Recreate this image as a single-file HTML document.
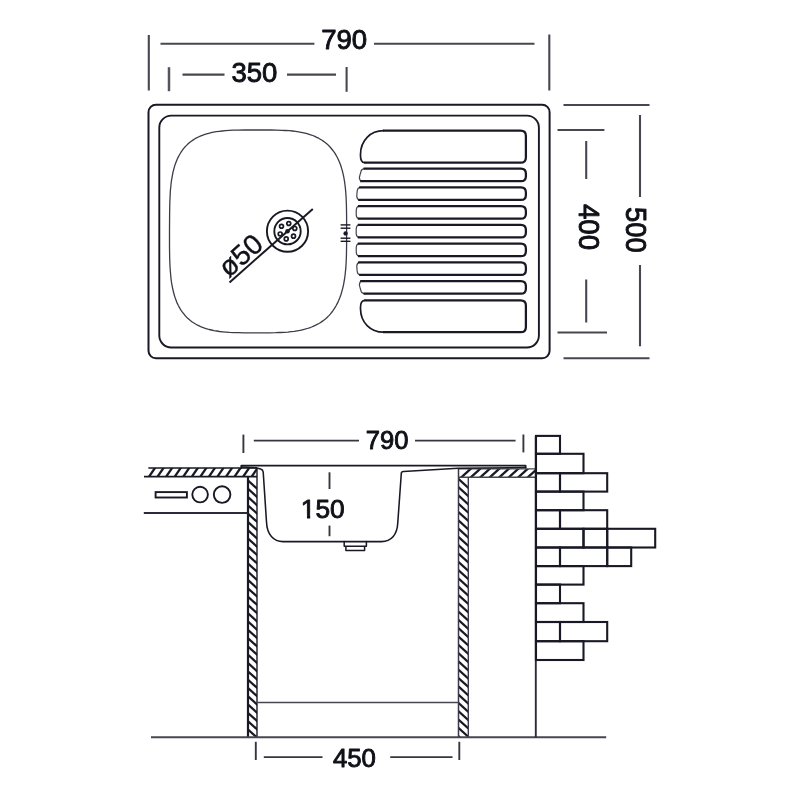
<!DOCTYPE html>
<html><head><meta charset="utf-8"><title>Sink dimensions</title>
<style>html,body{margin:0;padding:0;background:#fff;}body{width:800px;height:800px;overflow:hidden;font-family:"Liberation Sans",sans-serif;}svg{display:block;will-change:transform;}</style></head>
<body>
<svg width="800" height="800" viewBox="0 0 800 800">
<defs>
<clipPath id="c1"><rect x="144" y="468" width="113" height="8.5"/></clipPath>
<clipPath id="c2"><rect x="248" y="476.3" width="9" height="260.9"/></clipPath>
<clipPath id="c3"><rect x="458.5" y="468.9" width="77.2" height="8.4"/></clipPath>
<clipPath id="c4"><rect x="458.5" y="477.3" width="9.8" height="259.9"/></clipPath>
</defs>
<rect width="800" height="800" fill="#fff"/>
<g fill="none" stroke="#191925" stroke-width="1.9" stroke-linecap="round" stroke-linejoin="round">
<rect x="148.5" y="104.7" width="401.1" height="253.6" rx="7.5" ry="7.5" stroke-width="2"/>
<rect x="159.3" y="115.6" width="379.6" height="231.9" rx="12" ry="12"/>
</g>
<path d="M346.6,231.2 L346.6,244.5 L346.5,251.1 L346.4,256.5 L346.2,261.1 L346.0,265.3 L345.7,269.1 L345.3,272.7 L345.0,276.0 L344.5,279.1 L344.0,282.1 L343.5,284.9 L342.9,287.6 L342.2,290.2 L341.5,292.7 L340.8,295.0 L340.0,297.3 L339.1,299.5 L338.2,301.6 L337.2,303.6 L336.2,305.5 L335.1,307.4 L334.0,309.2 L332.8,310.9 L331.6,312.5 L330.3,314.1 L328.9,315.6 L327.5,317.0 L326.0,318.4 L324.4,319.7 L322.8,320.9 L321.1,322.1 L319.4,323.2 L317.6,324.2 L315.7,325.2 L313.7,326.1 L311.6,327.0 L309.5,327.8 L307.2,328.5 L304.9,329.2 L302.4,329.8 L299.8,330.4 L297.1,330.9 L294.2,331.4 L291.1,331.7 L287.8,332.1 L284.1,332.3 L280.1,332.5 L275.4,332.7 L269.6,332.8 L258.0,332.8 L244.7,332.8 L238.6,332.7 L233.8,332.6 L229.6,332.4 L226.0,332.1 L222.6,331.8 L219.6,331.5 L216.7,331.0 L214.0,330.6 L211.5,330.0 L209.1,329.5 L206.8,328.8 L204.6,328.1 L202.6,327.4 L200.6,326.6 L198.7,325.7 L196.9,324.8 L195.1,323.8 L193.5,322.8 L191.9,321.7 L190.3,320.5 L188.9,319.3 L187.4,318.0 L186.1,316.6 L184.8,315.2 L183.6,313.7 L182.4,312.2 L181.3,310.6 L180.2,308.9 L179.2,307.1 L178.2,305.3 L177.3,303.4 L176.5,301.4 L175.7,299.3 L174.9,297.1 L174.2,294.8 L173.6,292.5 L173.0,290.0 L172.4,287.3 L171.9,284.6 L171.4,281.7 L171.0,278.6 L170.7,275.3 L170.4,271.8 L170.1,268.0 L169.9,263.8 L169.7,259.0 L169.6,253.5 L169.5,246.5 L169.5,231.2 L169.6,215.6 L169.7,208.5 L169.8,203.0 L170.0,198.3 L170.2,194.1 L170.4,190.3 L170.8,186.8 L171.1,183.5 L171.5,180.4 L172.0,177.6 L172.5,174.8 L173.0,172.2 L173.6,169.8 L174.3,167.4 L174.9,165.2 L175.7,163.0 L176.5,160.9 L177.3,159.0 L178.2,157.1 L179.2,155.3 L180.2,153.5 L181.2,151.9 L182.3,150.3 L183.5,148.7 L184.7,147.3 L186.0,145.9 L187.3,144.6 L188.7,143.3 L190.2,142.1 L191.7,141.0 L193.3,139.9 L194.9,138.8 L196.6,137.9 L198.4,137.0 L200.3,136.1 L202.3,135.3 L204.3,134.6 L206.5,133.9 L208.8,133.3 L211.1,132.7 L213.7,132.2 L216.3,131.7 L219.2,131.3 L222.2,131.0 L225.6,130.7 L229.2,130.4 L233.4,130.2 L238.2,130.1 L244.4,130.0 L258.0,130.0 L270.6,130.0 L276.6,130.1 L281.4,130.3 L285.5,130.5 L289.2,130.7 L292.5,131.0 L295.6,131.4 L298.5,131.8 L301.2,132.3 L303.7,132.8 L306.1,133.4 L308.5,134.1 L310.7,134.8 L312.8,135.5 L314.8,136.4 L316.7,137.3 L318.6,138.2 L320.3,139.2 L322.0,140.3 L323.7,141.4 L325.2,142.6 L326.7,143.8 L328.2,145.1 L329.6,146.5 L330.9,148.0 L332.1,149.5 L333.3,151.0 L334.5,152.7 L335.6,154.4 L336.6,156.2 L337.6,158.0 L338.5,160.0 L339.4,162.0 L340.2,164.1 L341.0,166.3 L341.7,168.6 L342.4,171.0 L343.0,173.6 L343.6,176.2 L344.1,179.0 L344.6,181.9 L345.0,185.0 L345.4,188.3 L345.7,191.8 L346.0,195.6 L346.2,199.8 L346.4,204.5 L346.5,209.9 L346.6,216.8Z" fill="none" stroke="#3c3c48" stroke-width="1.3" stroke-linejoin="round"/>
<g fill="none" stroke="#191925">
<circle cx="287.5" cy="231.2" r="20.6" stroke-width="1.9"/>
<circle cx="287.5" cy="231.2" r="13.2" stroke-width="1.9"/>
<circle cx="294.81" cy="228.47" r="1.95" stroke-width="1.7"/>
<circle cx="293.52" cy="236.16" r="1.95" stroke-width="1.7"/>
<circle cx="286.21" cy="238.89" r="1.95" stroke-width="1.7"/>
<circle cx="280.19" cy="233.93" r="1.95" stroke-width="1.7"/>
<circle cx="281.48" cy="226.24" r="1.95" stroke-width="1.7"/>
<circle cx="288.79" cy="223.51" r="1.95" stroke-width="1.7"/>
</g>
<circle cx="287.5" cy="231.2" r="2.3" fill="#191925"/>
<line x1="229.5" y1="282.4" x2="312.8" y2="208.9" stroke="#191925" stroke-width="2"/>
<g stroke="#191925" stroke-width="1.4">
<line x1="340.6" y1="224.9" x2="350.4" y2="224.9"/>
<line x1="340.6" y1="228.2" x2="350.4" y2="228.2"/>
<line x1="340.6" y1="238.2" x2="350.4" y2="238.2"/>
<line x1="340.6" y1="241.3" x2="350.4" y2="241.3"/>
</g>
<circle cx="345.6" cy="233.4" r="2.2" fill="#191925"/>
<path d="M383.5,130.7 C370.5,130.7 360.5,140.5 360.5,154.5 Q360.3,162.7 364.7,162.7 M364.7,300.3 Q360.3,300.3 360.5,308.5 C360.5,322.5 370.5,332.2 383.5,332.2" fill="none" stroke="#191925" stroke-width="1.7" stroke-linecap="round" stroke-linejoin="round"/>
<path d="M365.10,168.70 Q361.27,168.80 360.77,172.30 L360.38,173.62 L360.00,174.95 L359.66,176.27 L359.34,177.60 Q359.84,181.10 361.68,181.20 M360.69,187.45 Q357.69,187.55 357.19,191.05 L357.06,192.37 L356.95,193.70 L356.85,195.02 L356.76,196.35 Q357.26,199.85 359.66,199.95 M359.45,206.20 Q356.78,206.30 356.28,209.80 L356.26,211.12 L356.25,212.45 L356.24,213.77 L356.23,215.10 Q356.73,218.60 359.31,218.70 M359.30,224.95 Q356.70,225.05 356.20,228.55 L356.20,229.87 L356.20,231.20 L356.20,232.52 L356.20,233.85 Q356.70,237.35 359.30,237.45 M359.31,243.70 Q356.73,243.80 356.23,247.30 L356.24,248.62 L356.25,249.95 L356.26,251.27 L356.28,252.60 Q356.78,256.10 359.45,256.20 M359.66,262.45 Q357.26,262.55 356.76,266.05 L356.85,267.38 L356.95,268.70 L357.06,270.03 L357.19,271.35 Q357.69,274.85 360.69,274.95 M361.68,281.20 Q359.84,281.30 359.34,284.80 L359.66,286.12 L360.00,287.45 L360.38,288.78 L360.77,290.10 Q361.27,293.60 365.10,293.70" fill="none" stroke="#44444f" stroke-width="1.2" stroke-linecap="round" stroke-linejoin="round"/>
<path d="M383,130.7 H520.5 Q525.9,130.7 525.9,136 V157.4 Q525.9,162.7 520.5,162.7 H364.2 M363.60,168.70 H520.9 Q525.9,168.70 525.9,173.70 V176.20 Q525.9,181.20 520.9,181.20 H360.18 M359.19,187.45 H520.9 Q525.9,187.45 525.9,192.45 V194.95 Q525.9,199.95 520.9,199.95 H358.16 M357.95,206.20 H520.9 Q525.9,206.20 525.9,211.20 V213.70 Q525.9,218.70 520.9,218.70 H357.81 M357.80,224.95 H520.9 Q525.9,224.95 525.9,229.95 V232.45 Q525.9,237.45 520.9,237.45 H357.80 M357.81,243.70 H520.9 Q525.9,243.70 525.9,248.70 V251.20 Q525.9,256.20 520.9,256.20 H357.95 M358.16,262.45 H520.9 Q525.9,262.45 525.9,267.45 V269.95 Q525.9,274.95 520.9,274.95 H359.19 M360.18,281.20 H520.9 Q525.9,281.20 525.9,286.20 V288.70 Q525.9,293.70 520.9,293.70 H363.60 M364.2,300.3 H520.5 Q525.9,300.3 525.9,305.6 V326.9 Q525.9,332.2 520.5,332.2 H383" fill="none" stroke="#191925" stroke-width="2.25" stroke-linejoin="round"/>
<g fill="none" stroke="#474751" stroke-width="2.1">
<line x1="148.8" y1="35" x2="148.8" y2="90.5"/>
<line x1="549.3" y1="34.5" x2="549.3" y2="90.5"/>
<line x1="160.5" y1="43.7" x2="314.4" y2="43.7"/>
<line x1="374" y1="43.7" x2="534.5" y2="43.7"/>
<line x1="169" y1="67.2" x2="169" y2="91.2" stroke-width="2.5" stroke="#55555f"/>
<line x1="346.6" y1="67" x2="346.6" y2="91.8"/>
<line x1="182.5" y1="74.6" x2="224.5" y2="74.6"/>
<line x1="287" y1="74.6" x2="336" y2="74.6"/>
<line x1="563.5" y1="105" x2="649.5" y2="105"/>
<line x1="563.5" y1="358.2" x2="649.5" y2="358.2"/>
<line x1="557.5" y1="130" x2="604.4" y2="130"/>
<line x1="557.5" y1="332.5" x2="607" y2="332.5"/>
<line x1="586.2" y1="141" x2="586.2" y2="179"/>
<line x1="586.2" y1="279.5" x2="586.2" y2="322.5"/>
<line x1="640" y1="115" x2="640" y2="197"/>
<line x1="640" y1="265" x2="640" y2="346.3"/>
</g>
<g clip-path="url(#c1)" stroke="#191925" stroke-width="2.3" fill="none">
<line x1="146.3" y1="480.7" x2="157.9" y2="463.7"/>
<line x1="154.8" y1="480.7" x2="166.4" y2="463.7"/>
<line x1="163.4" y1="480.7" x2="175.0" y2="463.7"/>
<line x1="172.0" y1="480.7" x2="183.6" y2="463.7"/>
<line x1="180.5" y1="480.7" x2="192.1" y2="463.7"/>
<line x1="189.1" y1="480.7" x2="200.7" y2="463.7"/>
<line x1="197.6" y1="480.7" x2="209.2" y2="463.7"/>
<line x1="206.2" y1="480.7" x2="217.8" y2="463.7"/>
<line x1="214.7" y1="480.7" x2="226.3" y2="463.7"/>
<line x1="223.3" y1="480.7" x2="234.9" y2="463.7"/>
<line x1="231.8" y1="480.7" x2="243.4" y2="463.7"/>
<line x1="240.4" y1="480.7" x2="252.0" y2="463.7"/>
<line x1="248.9" y1="480.7" x2="260.5" y2="463.7"/>
</g>
<g fill="none" stroke="#191925" stroke-width="1.6">
<line x1="148.3" y1="468" x2="257" y2="468"/>
<line x1="144" y1="476.6" x2="257" y2="476.6"/>
</g>
<g clip-path="url(#c2)" stroke="#191925" stroke-width="2.2" fill="none">
<line x1="246" y1="478.7" x2="259" y2="490.4"/>
<line x1="246" y1="487.0" x2="259" y2="498.7"/>
<line x1="246" y1="495.3" x2="259" y2="507.0"/>
<line x1="246" y1="503.6" x2="259" y2="515.3"/>
<line x1="246" y1="511.9" x2="259" y2="523.6"/>
<line x1="246" y1="520.2" x2="259" y2="531.9"/>
<line x1="246" y1="528.5" x2="259" y2="540.2"/>
<line x1="246" y1="536.8" x2="259" y2="548.5"/>
<line x1="246" y1="545.1" x2="259" y2="556.8"/>
<line x1="246" y1="553.4" x2="259" y2="565.1"/>
<line x1="246" y1="561.7" x2="259" y2="573.4"/>
<line x1="246" y1="570.0" x2="259" y2="581.7"/>
<line x1="246" y1="578.3" x2="259" y2="590.0"/>
<line x1="246" y1="586.6" x2="259" y2="598.3"/>
<line x1="246" y1="594.9" x2="259" y2="606.6"/>
<line x1="246" y1="603.2" x2="259" y2="614.9"/>
<line x1="246" y1="611.5" x2="259" y2="623.2"/>
<line x1="246" y1="619.8" x2="259" y2="631.5"/>
<line x1="246" y1="628.1" x2="259" y2="639.8"/>
<line x1="246" y1="636.4" x2="259" y2="648.1"/>
<line x1="246" y1="644.7" x2="259" y2="656.4"/>
<line x1="246" y1="653.0" x2="259" y2="664.7"/>
<line x1="246" y1="661.3" x2="259" y2="673.0"/>
<line x1="246" y1="669.6" x2="259" y2="681.3"/>
<line x1="246" y1="677.9" x2="259" y2="689.6"/>
<line x1="246" y1="686.2" x2="259" y2="697.9"/>
<line x1="246" y1="694.5" x2="259" y2="706.2"/>
<line x1="246" y1="702.8" x2="259" y2="714.5"/>
<line x1="246" y1="711.1" x2="259" y2="722.8"/>
<line x1="246" y1="719.4" x2="259" y2="731.1"/>
<line x1="246" y1="727.7" x2="259" y2="739.4"/>
<line x1="246" y1="736.0" x2="259" y2="747.7"/>
</g>
<g fill="none" stroke="#191925">
<line x1="248" y1="476.6" x2="248" y2="737.2" stroke-width="2.2"/>
<line x1="257" y1="468" x2="257" y2="737.2" stroke-width="1.4"/>
</g>
<g clip-path="url(#c3)" stroke="#191925" stroke-width="2.3" fill="none">
<line x1="458.0" y1="480.3" x2="473.3" y2="466.5"/>
<line x1="467.5" y1="480.3" x2="482.8" y2="466.5"/>
<line x1="477.0" y1="480.3" x2="492.3" y2="466.5"/>
<line x1="486.5" y1="480.3" x2="501.8" y2="466.5"/>
<line x1="496.0" y1="480.3" x2="511.3" y2="466.5"/>
<line x1="505.5" y1="480.3" x2="520.8" y2="466.5"/>
<line x1="515.0" y1="480.3" x2="530.3" y2="466.5"/>
<line x1="524.5" y1="480.3" x2="539.8" y2="466.5"/>
<line x1="534.0" y1="480.3" x2="549.3" y2="466.5"/>
</g>
<g fill="none" stroke="#474751" stroke-width="1.4">
<line x1="458.5" y1="468.9" x2="535.7" y2="468.9"/>
<line x1="458.5" y1="477.3" x2="535.7" y2="477.3"/>
</g>
<g clip-path="url(#c4)" stroke="#191925" stroke-width="2.2" fill="none">
<line x1="456.5" y1="477.1" x2="470" y2="489.3"/>
<line x1="456.5" y1="485.4" x2="470" y2="497.6"/>
<line x1="456.5" y1="493.7" x2="470" y2="505.9"/>
<line x1="456.5" y1="502.0" x2="470" y2="514.2"/>
<line x1="456.5" y1="510.3" x2="470" y2="522.5"/>
<line x1="456.5" y1="518.6" x2="470" y2="530.8"/>
<line x1="456.5" y1="526.9" x2="470" y2="539.1"/>
<line x1="456.5" y1="535.2" x2="470" y2="547.4"/>
<line x1="456.5" y1="543.5" x2="470" y2="555.7"/>
<line x1="456.5" y1="551.8" x2="470" y2="564.0"/>
<line x1="456.5" y1="560.1" x2="470" y2="572.3"/>
<line x1="456.5" y1="568.4" x2="470" y2="580.6"/>
<line x1="456.5" y1="576.7" x2="470" y2="588.9"/>
<line x1="456.5" y1="585.0" x2="470" y2="597.2"/>
<line x1="456.5" y1="593.3" x2="470" y2="605.5"/>
<line x1="456.5" y1="601.6" x2="470" y2="613.8"/>
<line x1="456.5" y1="609.9" x2="470" y2="622.1"/>
<line x1="456.5" y1="618.2" x2="470" y2="630.4"/>
<line x1="456.5" y1="626.5" x2="470" y2="638.7"/>
<line x1="456.5" y1="634.8" x2="470" y2="647.0"/>
<line x1="456.5" y1="643.1" x2="470" y2="655.3"/>
<line x1="456.5" y1="651.4" x2="470" y2="663.6"/>
<line x1="456.5" y1="659.7" x2="470" y2="671.9"/>
<line x1="456.5" y1="668.0" x2="470" y2="680.2"/>
<line x1="456.5" y1="676.3" x2="470" y2="688.5"/>
<line x1="456.5" y1="684.6" x2="470" y2="696.8"/>
<line x1="456.5" y1="692.9" x2="470" y2="705.1"/>
<line x1="456.5" y1="701.2" x2="470" y2="713.4"/>
<line x1="456.5" y1="709.5" x2="470" y2="721.7"/>
<line x1="456.5" y1="717.8" x2="470" y2="730.0"/>
<line x1="456.5" y1="726.1" x2="470" y2="738.3"/>
<line x1="456.5" y1="734.4" x2="470" y2="746.6"/>
</g>
<g fill="none" stroke="#191925">
<line x1="458.5" y1="468.9" x2="458.5" y2="737.2" stroke-width="1.5" stroke="#3a3a48"/>
<line x1="468.3" y1="477.3" x2="468.3" y2="737.2" stroke-width="1.4" stroke="#3a3a48"/>
</g>
<g fill="none" stroke="#191925" stroke-width="1.9">
<line x1="143.8" y1="513" x2="247.5" y2="513" stroke="#2c2c38" stroke-width="1.8"/>
<rect x="155.6" y="492.1" width="31.3" height="5.4"/>
<circle cx="200.1" cy="494.6" r="7.8"/>
<circle cx="222.1" cy="494.6" r="8.3"/>
</g>
<g fill="none" stroke="#191925" stroke-width="1.5" stroke-linejoin="round" stroke-linecap="round">
<path d="M241.3,468 V465.6 H525.6 V467.6" stroke-width="1.8"/>
<path d="M242.5,467 L256,467.7 L260.6,468.9 Q263,469.6 263.2,472 L266.5,522 C267,534.5 273.5,541.6 283,541.6 H381.5 C391,541.6 397.3,535 397.8,522.5 L401.3,473.5 Q401.3,471.6 403.5,471.5 L458,468.2 L525.6,467.5" stroke-width="1.55"/>
<path d="M344.2,541.5 V546.2 H366.4 V541.5 M345.9,546.2 V550.5 H364.6 V546.2"/>
</g>
<g fill="none" stroke="#474751" stroke-width="1.9">
<line x1="257.3" y1="702.5" x2="458.4" y2="702.5" stroke-width="1.7"/>
<line x1="151" y1="737.3" x2="606.2" y2="737.3" stroke-width="1.9"/>
<line x1="535.9" y1="436" x2="535.9" y2="660" stroke="#191925" stroke-width="2.2"/>
<line x1="535.8" y1="660" x2="535.8" y2="737.4" stroke="#2c2c38" stroke-width="1.9"/>
</g>
<g fill="none" stroke="#191925" stroke-width="2.1" stroke-linejoin="miter">
<rect x="536" y="435.9" width="24.0" height="17.9"/>
<rect x="536" y="453.8" width="47.5" height="19.4"/>
<rect x="536" y="473.2" width="24.0" height="18.4"/>
<rect x="560" y="473.2" width="47.2" height="18.4"/>
<rect x="536" y="491.6" width="47.5" height="18.6"/>
<rect x="536" y="510.2" width="24.0" height="18.6"/>
<rect x="560" y="510.2" width="47.2" height="18.6"/>
<rect x="536" y="528.8" width="47.5" height="18.7"/>
<rect x="583.5" y="528.8" width="23.7" height="18.7"/>
<rect x="607.2" y="528.8" width="48.0" height="18.7"/>
<rect x="536" y="547.5" width="24.0" height="18.6"/>
<rect x="560" y="547.5" width="47.2" height="18.6"/>
<rect x="607.2" y="547.5" width="24.0" height="18.6"/>
<rect x="536" y="566.1" width="47.5" height="18.5"/>
<rect x="536" y="584.6" width="24.0" height="18.6"/>
<rect x="536" y="603.2" width="47.5" height="18.8"/>
<rect x="536" y="622" width="24.0" height="19.2"/>
<rect x="560" y="622" width="47.2" height="19.2"/>
<rect x="536" y="641.2" width="47.5" height="18.8"/>
</g>
<g fill="none" stroke="#363641" stroke-width="1.9">
<line x1="243.4" y1="434.6" x2="243.4" y2="453"/>
<line x1="523.4" y1="434.5" x2="523.4" y2="452.4"/>
<line x1="253.8" y1="440.6" x2="359" y2="440.6"/>
<line x1="415" y1="440.6" x2="515.6" y2="440.6"/>
<line x1="329.5" y1="472.3" x2="329.5" y2="489"/>
<line x1="329.5" y1="525.6" x2="329.5" y2="536.2"/>
<line x1="255.8" y1="741.8" x2="255.8" y2="760"/>
<line x1="459.3" y1="741.8" x2="459.3" y2="760"/>
<line x1="263.8" y1="757.1" x2="322.5" y2="757.1"/>
<line x1="390.2" y1="757.1" x2="452.5" y2="757.1"/>
</g>
<g font-family="'Liberation Sans', sans-serif" fill="#101018" stroke="#101018" stroke-width="0.9" stroke-linejoin="round" text-anchor="middle">
<text id="t790a" x="344.2" y="49.2" font-size="27.6">790</text>
<text id="t350" x="254.4" y="82.3" font-size="27.5">350</text>
<text id="t400" transform="translate(578.9 227) rotate(90) scale(1 1.07)" font-size="27.6">400</text>
<text id="t500" transform="translate(626.3 229.8) rotate(90) scale(1 1.06)" font-size="27.4">500</text>
<text id="t50" transform="translate(246.8 262.6) rotate(-41.5)" font-size="28" stroke-width="0.4">ø50</text>
<text id="t790b" x="387.1" y="449.0" font-size="25.6">790</text>
<text id="t150" x="322.8" y="518.2" font-size="26.3">150</text>
<text id="t450" x="354.4" y="767.3" font-size="25.8">450</text>
</g>
<rect x="301" y="514.4" width="5.95" height="5.6" fill="#fff"/>
<rect x="310.2" y="514.4" width="5.1" height="5.6" fill="#fff"/>
</svg>
</body></html>
